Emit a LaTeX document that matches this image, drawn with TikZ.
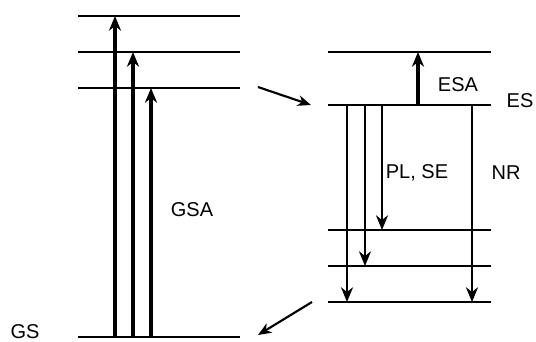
\documentclass[tikz,border=0pt]{standalone}
\usepackage{fontspec}
\setmainfont{Liberation Sans}
\usetikzlibrary{arrows.meta,positioning}

\begin{document}
\begin{tikzpicture}[
    x=0.75pt, y=-0.75pt,
    level/.style={line width=1.6pt},
    pump/.style={-{Stealth[length=11pt,width=9pt,inset=3.5pt]}, line width=2.4pt},
    decay/.style={-{Stealth[length=11pt,width=9pt,inset=3.5pt]}, line width=1.6pt},
    hop/.style={-{Stealth[length=10pt,width=8pt,inset=3pt]}, line width=1.6pt},
    lbl/.style={inner sep=0pt, font=\fontsize{15}{18}\selectfont}
]
\useasboundingbox (0,0) rectangle (536,342);

% Ground state manifold
\coordinate (gs) at (78,337);
\coordinate (u1) at (78,88);
\coordinate (u2) at (78,52);
\coordinate (u3) at (78,16);
\foreach \l in {gs,u1,u2,u3} {
    \draw[level] (\l) -- ++(162,0);
}

% Excited state manifold
\coordinate (es) at (328,105);
\coordinate (ee) at (328,52);
\coordinate (d1) at (328,230);
\coordinate (d2) at (328,266);
\coordinate (d3) at (328,302);
\foreach \l in {es,ee,d1,d2,d3} {
    \draw[level] (\l) -- ++(163,0);
}

% Arrow columns
\coordinate (a1) at (115,0);
\coordinate (a2) at (133,0);
\coordinate (a3) at (151,0);
\coordinate (b0) at (418,0);
\coordinate (b1) at (347,0);
\coordinate (b2) at (365,0);
\coordinate (b3) at (382,0);
\coordinate (b4) at (472,0);

% Absorption
\draw[pump] (a1 |- gs) -- (a1 |- u3);
\draw[pump] (a2 |- gs) -- (a2 |- u2);
\draw[pump] (a3 |- gs) -- (a3 |- u1);
\draw[pump] (b0 |- es) -- (b0 |- ee);

% Emission and relaxation
\draw[decay] (b1 |- es) -- (b1 |- d3);
\draw[decay] (b2 |- es) -- (b2 |- d2);
\draw[decay] (b3 |- es) -- (b3 |- d1);
\draw[decay] (b4 |- es) -- (b4 |- d3);

% Transfer between manifolds
\coordinate (t1) at (258,87);
\coordinate (t2) at (311,105);
\coordinate (t3) at (312,302);
\coordinate (t4) at (258,335);
\draw[hop] (t1) -- (t2);
\draw[hop] (t3) -- (t4);

% Labels
\node[lbl] (gslbl) at (25,332) {GS};
\node[lbl] (gsalbl) at (192,210) {GSA};
\node[lbl] (eslbl) at (520,101) {ES};
\node[lbl] (esalbl) at (458,85) {ESA};
\node[lbl] (pllbl) at (417,173) {PL, SE};
\node[lbl] (nrlbl) at (506,173) {NR};

\end{tikzpicture}
\end{document}
